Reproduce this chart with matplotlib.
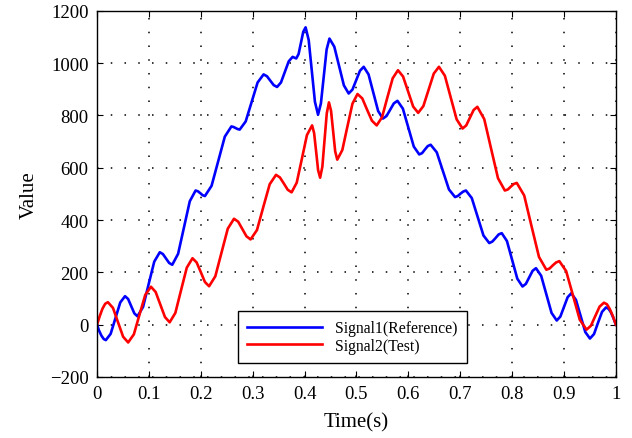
import matplotlib
matplotlib.use("Agg")
import matplotlib.pyplot as plt
import numpy as np

plt.rcParams["font.family"] = ["Liberation Serif", "DejaVu Serif"]

# Signal1 (Reference): times and values
t1 = [0.000, 0.004, 0.0085, 0.013, 0.017, 0.0263, 0.0355, 0.0448, 0.054, 0.060, 0.066, 0.072,
      0.078, 0.0888, 0.0995, 0.1103, 0.121, 0.127, 0.133, 0.139, 0.145, 0.1563, 0.1675, 0.1788,
      0.190, 0.1945, 0.199, 0.2035, 0.208, 0.2208, 0.2335, 0.2463, 0.259, 0.263, 0.267, 0.271,
      0.275, 0.2865, 0.298, 0.3095, 0.321, 0.3275, 0.334, 0.3405, 0.347, 0.3545, 0.362, 0.3695,
      0.377, 0.3805, 0.384, 0.3885, 0.393, 0.3975, 0.402, 0.408, 0.414, 0.420, 0.426, 0.4315,
      0.437, 0.4425, 0.448, 0.4573, 0.4665, 0.4758, 0.485, 0.4923, 0.4995, 0.5068, 0.514, 0.5233,
      0.5325, 0.5418, 0.551, 0.558, 0.565, 0.572, 0.579, 0.5895, 0.600, 0.6105, 0.621, 0.6265,
      0.632, 0.6375, 0.643, 0.6548, 0.6665, 0.6783, 0.690, 0.6953, 0.7005, 0.7058, 0.711, 0.7223,
      0.7335, 0.7448, 0.756, 0.762, 0.768, 0.774, 0.780, 0.790, 0.800, 0.810, 0.820, 0.8265,
      0.833, 0.8395, 0.846, 0.856, 0.866, 0.876, 0.886, 0.893, 0.900, 0.907, 0.914, 0.923,
      0.932, 0.941, 0.950, 0.9578, 0.9655, 0.9733, 0.981, 0.9858, 0.9905, 0.9953, 1.000]
v1 = [0, -23, -42, -55, -59, -35, 25, 85, 109, 98, 71, 43,
      32, 68, 155, 241, 277, 270, 253, 236, 229, 271, 371, 472,
      513, 510, 503, 495, 492, 531, 625, 719, 758, 756, 752, 748,
      746, 777, 852, 926, 957, 950, 933, 916, 909, 926, 967, 1007,
      1024, 1021, 1018, 1035, 1078, 1120, 1137, 1088, 970, 852, 803, 846,
      949, 1052, 1094, 1063, 989, 915, 884, 899, 935, 971, 986, 957,
      887, 817, 788, 798, 822, 846, 856, 826, 754, 681, 651, 656,
      670, 683, 688, 659, 588, 517, 488, 492, 501, 509, 513, 484,
      413, 341, 312, 318, 331, 345, 350, 320, 248, 176, 146, 156,
      181, 206, 216, 187, 116, 45, 16, 31, 68, 105, 120, 95,
      34, -28, -53, -36, 7, 49, 66, 61, 47, 25, 0]

# Signal2 (Test)
t2 = [0.000, 0.0053, 0.0105, 0.0158, 0.021, 0.0308, 0.0405, 0.0503, 0.060, 0.071, 0.082, 0.093,
      0.104, 0.113, 0.122, 0.131, 0.140, 0.151, 0.162, 0.173, 0.184, 0.192, 0.200, 0.208,
      0.216, 0.228, 0.240, 0.252, 0.264, 0.272, 0.280, 0.288, 0.296, 0.3083, 0.3205, 0.3328,
      0.345, 0.3525, 0.360, 0.3675, 0.375, 0.3849, 0.3948, 0.4046, 0.4145, 0.4184, 0.4223, 0.4261,
      0.430, 0.4343, 0.4385, 0.4428, 0.447, 0.451, 0.455, 0.459, 0.463, 0.4728, 0.4825, 0.4923,
      0.502, 0.5113, 0.5205, 0.5298, 0.539, 0.5493, 0.5595, 0.5698, 0.580, 0.5898, 0.5995, 0.6093,
      0.619, 0.629, 0.639, 0.649, 0.659, 0.6704, 0.6818, 0.6931, 0.7045, 0.7116, 0.7188, 0.7259,
      0.733, 0.7463, 0.7595, 0.7728, 0.786, 0.7918, 0.7975, 0.8033, 0.809, 0.8233, 0.8375, 0.8518,
      0.866, 0.8723, 0.8785, 0.8848, 0.891, 0.9041, 0.9173, 0.9304, 0.9435, 0.9519, 0.9603, 0.9686,
      0.977, 0.9828, 0.9885, 0.9943, 1.000]
v2 = [0, 33, 61, 80, 86, 64, 9, -46, -68, -37, 39, 114,
      145, 125, 77, 29, 9, 45, 132, 218, 254, 238, 201, 163,
      147, 185, 276, 367, 405, 394, 366, 338, 326, 362, 450, 537,
      573, 563, 540, 516, 506, 543, 634, 725, 762, 733, 662, 591,
      562, 604, 706, 808, 850, 818, 741, 663, 631, 668, 757, 845,
      882, 865, 822, 780, 762, 793, 868, 942, 973, 949, 892, 834,
      810, 836, 898, 960, 986, 952, 868, 785, 750, 762, 792, 821,
      833, 786, 673, 560, 513, 517, 528, 538, 542, 494, 376, 259,
      210, 215, 227, 238, 243, 205, 112, 19, -19, -4, 33, 69,
      84, 78, 59, 32, 0]

fig = plt.figure(figsize=(6.32, 4.39), dpi=100)
ax = fig.add_axes([0.1535, 0.139, 0.821, 0.834])

ax.plot(t1, v1, color=(0, 0, 1), lw=1.9, label="Signal1(Reference)")
ax.plot(t2, v2, color=(1, 0, 0), lw=1.9, label="Signal2(Test)")

ax.set_xlim(0, 1)
ax.set_ylim(-200, 1200)
ax.set_xticks(np.arange(0, 1.01, 0.1))
ax.set_xticklabels(["0", "0.1", "0.2", "0.3", "0.4", "0.5", "0.6", "0.7", "0.8", "0.9", "1"])
ax.set_yticks(np.arange(-200, 1201, 200))
ax.tick_params(direction="in", top=True, right=True, labelsize=13.5, length=4, width=0.8, pad=6)
ax.grid(True, color="black", linestyle=(0, (1, 8)), linewidth=1.1)
for s in ax.spines.values():
    s.set_linewidth(1.0)

ax.set_xlabel("Time(s)", fontsize=15, labelpad=7)
ax.set_ylabel("Value", fontsize=15, labelpad=8)

leg = ax.legend(loc="lower left", bbox_to_anchor=(0.271, 0.038), borderaxespad=0,
                fontsize=11.3, handlelength=4.8, fancybox=False, edgecolor="black",
                framealpha=1, borderpad=0.6, labelspacing=0.1, handletextpad=0.8)
leg.get_frame().set_linewidth(1.0)

fig.savefig("out.png", dpi=100)
